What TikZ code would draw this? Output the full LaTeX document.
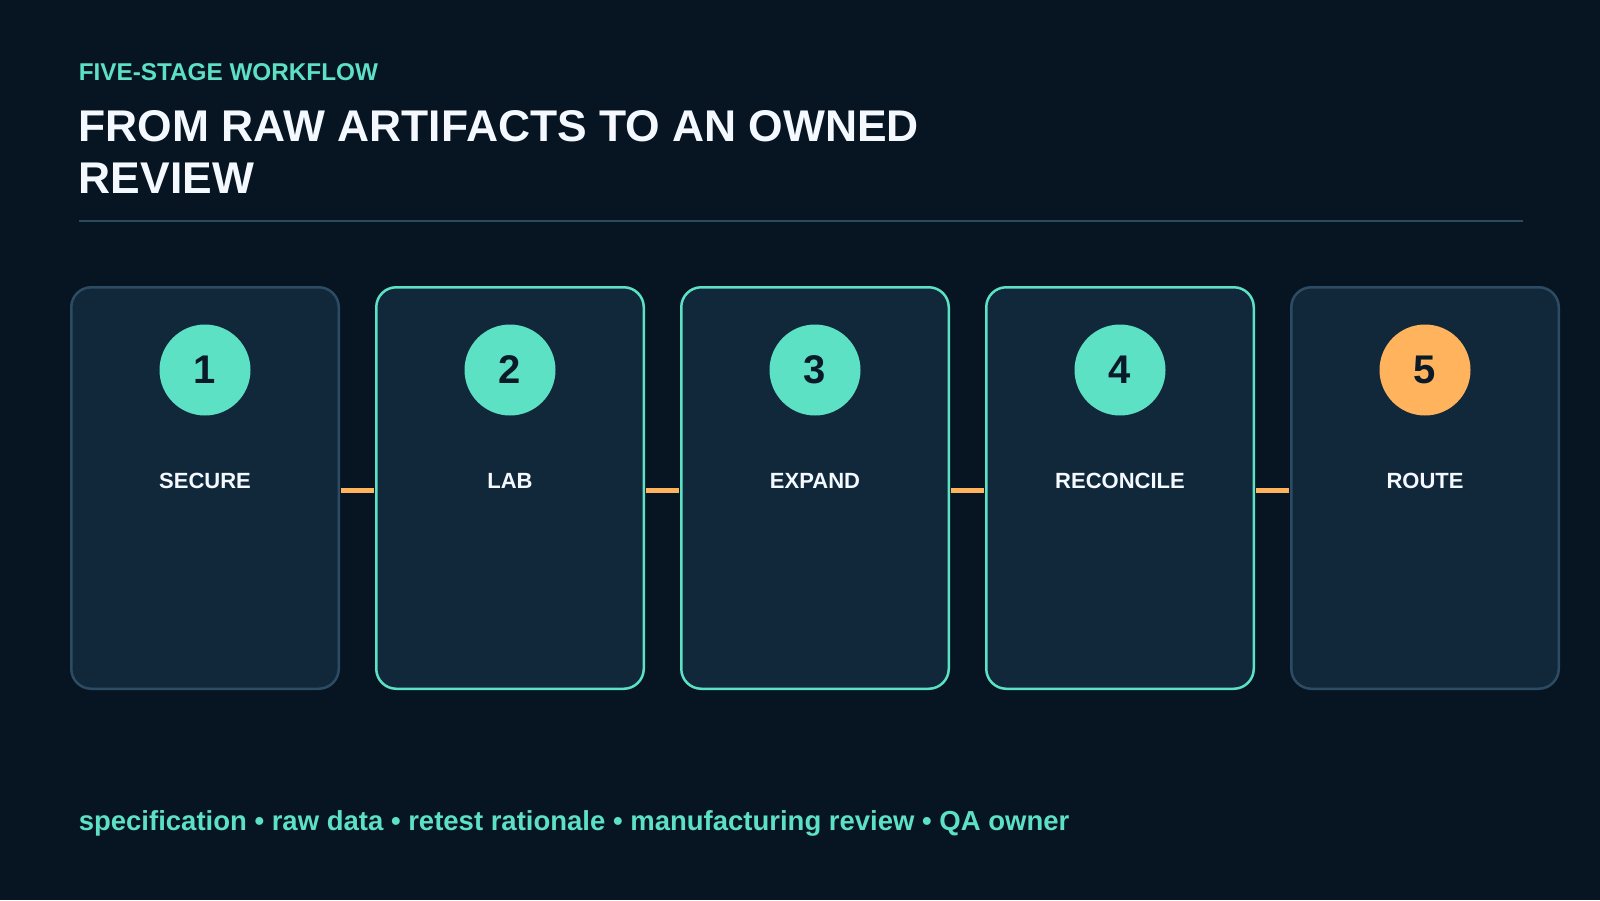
\documentclass[tikz,border=0pt]{standalone}
\usepackage{fontspec}
\setmainfont{Liberation Sans}
\definecolor{bg}{HTML}{071421}
\definecolor{cardfill}{HTML}{11283B}
\definecolor{cardedge}{HTML}{2D4C63}
\definecolor{teal}{HTML}{5CE1C5}
\definecolor{orange}{HTML}{FFB35C}
\definecolor{titlecol}{HTML}{F4F8FF}
\definecolor{numcol}{HTML}{0B1A28}
\definecolor{rulecol}{HTML}{2A4A60}
\begin{document}
\begin{tikzpicture}[x=1pt,y=-1pt,
  card/.style={draw=cardedge, line width=2.5pt, fill=cardfill, rounded corners=20pt,
    minimum width=267.5pt, minimum height=401.5pt, inner sep=0pt},
  activecard/.style={card, draw=teal},
  badge/.style={circle, fill=teal, minimum size=91pt, inner sep=0pt, text=numcol,
    font=\fontsize{40}{40}\selectfont\bfseries},
  lastbadge/.style={badge, fill=orange},
  stagelabel/.style={anchor=base, text=titlecol, inner sep=0pt, font=\fontsize{22}{22}\selectfont\bfseries},
  link/.style={draw=orange, line width=5pt},
  kicker/.style={anchor=base west, inner sep=0pt, text=teal, font=\fontsize{24.3}{24.3}\selectfont\bfseries},
  headline/.style={anchor=base west, inner sep=0pt, text=titlecol, font=\fontsize{44.4}{44.4}\selectfont\bfseries},
  footer/.style={anchor=base west, inner sep=0pt, text=teal, font=\fontsize{27.5}{27.5}\selectfont\bfseries}
]
\fill[bg] (0,0) rectangle (1600,900);
\useasboundingbox (0,0) rectangle (1600,900);

\node[kicker] (kick) at (78.6,80) {FIVE-STAGE WORKFLOW};
\node[headline] (head1) at (78.6,141.7) {FROM RAW ARTIFACTS TO AN OWNED};
\node[headline] (head2) at (78.6,193.3) {REVIEW};
\coordinate (ruleL) at (78.6,220.7);
\coordinate (ruleR) at (1522.7,220.7);
\draw[rulecol, line width=2pt] (ruleL) -- (ruleR);

% cards
\coordinate (p1) at (205,488);
\coordinate (p2) at (510,488);
\coordinate (p3) at (815,488);
\coordinate (p4) at (1120,488);
\coordinate (p5) at (1425,488);

\path (p1) node[card] (c1) {};
\path (p2) node[activecard] (c2) {};
\path (p3) node[activecard] (c3) {};
\path (p4) node[activecard] (c4) {};
\path (p5) node[card] (c5) {};

\foreach \a/\b in {c1/c2, c2/c3, c3/c4, c4/c5}{
  \draw[link] ([xshift=0.8pt,yshift=-2.7pt]\a.east) -- ([xshift=-0.8pt,yshift=-2.7pt]\b.west);
}

\node[badge] (n1) at (205,370) {1};
\node[badge] (n2) at (510,370) {2};
\node[badge] (n3) at (815,370) {3};
\node[badge] (n4) at (1120,370) {4};
\node[lastbadge] (n5) at (1425,370) {5};

\node[stagelabel] (l1) at (205,488.3) {SECURE};
\node[stagelabel] (l2) at (510,488.3) {LAB};
\node[stagelabel] (l3) at (815,488.3) {EXPAND};
\node[stagelabel] (l4) at (1120,488.3) {RECONCILE};
\node[stagelabel] (l5) at (1425,488.3) {ROUTE};

\node[footer] (foot) at (78.6,830) {specification • raw data • retest rationale • manufacturing review • QA owner};
\end{tikzpicture}
\end{document}
